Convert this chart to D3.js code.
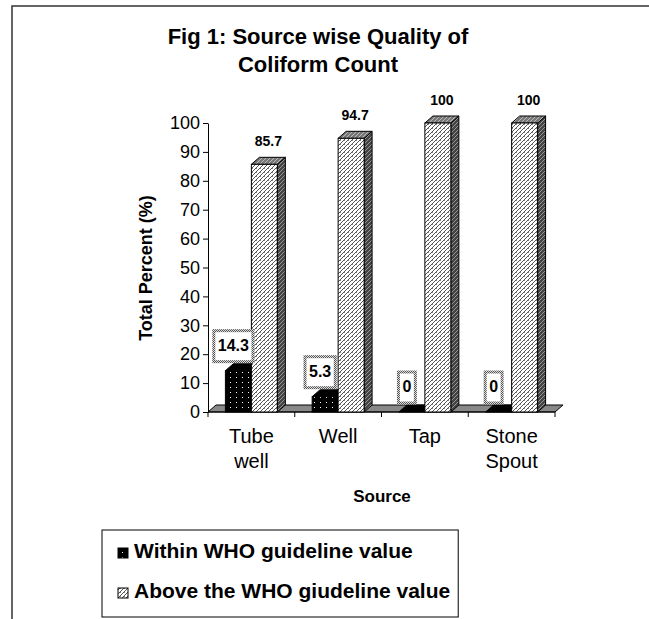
<!doctype html>
<html lang="en">
  <head>
    <meta charset="utf-8">
    <title>Source wise Quality of Coliform Count</title>
    <script src="https://cdnjs.cloudflare.com/ajax/libs/d3/7.8.5/d3.min.js"></script>
    <style>
      body { margin: 0; background: #fff; }
      text { font-family: "Liberation Sans", Arial, sans-serif; fill: #000; }
    </style>
  </head>
  <body>
    <div id="chart"></div>
    <script>
    // chart values
    var categories = [["Tube", "well"], ["Well"], ["Tap"], ["Stone", "Spout"]];
    var withinValues = [14.3, 5.3, 0, 0];
    var aboveValues = [85.7, 94.7, 100, 100];
    var yTicks = [0, 10, 20, 30, 40, 50, 60, 70, 80, 90, 100];
    var seriesNames = ["Within WHO guideline value", "Above the WHO giudeline value"];

    var width = 649, height = 619;
    var dx = 8, dy = -7;   // 3d depth of the columns

    var svg = d3.select("#chart").append("svg")
        .attr("width", width)
        .attr("height", height);

    var defs = svg.append("defs");

    // black with white dots
    var p1 = defs.append("pattern").attr("id", "dots")
        .attr("patternUnits", "userSpaceOnUse").attr("width", 6).attr("height", 5);
    p1.append("rect").attr("width", 6).attr("height", 5).attr("fill", "#000");
    p1.append("rect").attr("x", 2).attr("y", 2).attr("width", 1).attr("height", 1).attr("fill", "#fff");

    // light zigzag hatch for the front face
    var p2 = defs.append("pattern").attr("id", "hatch")
        .attr("patternUnits", "userSpaceOnUse").attr("width", 4).attr("height", 4);
    p2.append("rect").attr("width", 4).attr("height", 4).attr("fill", "#fff");
    p2.append("path").attr("d", "M0,4L4,0M-1,1L1,-1M3,5L5,3").attr("stroke", "#555").attr("stroke-width", 1);
    p2.append("rect").attr("x", 0).attr("y", 0).attr("width", 1).attr("height", 1).attr("fill", "#888");

    // dark hatch for the side face
    var p3 = defs.append("pattern").attr("id", "hatchDark")
        .attr("patternUnits", "userSpaceOnUse").attr("width", 4).attr("height", 4);
    p3.append("rect").attr("width", 4).attr("height", 4).attr("fill", "#444");
    p3.append("path").attr("d", "M0,4L4,0M-1,1L1,-1M3,5L5,3").attr("stroke", "#aaa").attr("stroke-width", 0.8);

    // medium hatch for the top face
    var p4 = defs.append("pattern").attr("id", "hatchMid")
        .attr("patternUnits", "userSpaceOnUse").attr("width", 4).attr("height", 4);
    p4.append("rect").attr("width", 4).attr("height", 4).attr("fill", "#777");
    p4.append("path").attr("d", "M0,4L4,0M-1,1L1,-1M3,5L5,3").attr("stroke", "#ccc").attr("stroke-width", 0.8);

    // checker used for the label box border
    var p5 = defs.append("pattern").attr("id", "checker")
        .attr("patternUnits", "userSpaceOnUse").attr("width", 2).attr("height", 2);
    p5.append("rect").attr("width", 2).attr("height", 2).attr("fill", "#ddd");
    p5.append("rect").attr("width", 1).attr("height", 1).attr("fill", "#555");
    p5.append("rect").attr("x", 1).attr("y", 1).attr("width", 1).attr("height", 1).attr("fill", "#555");

    // outer frame (right and bottom edges are off the picture)
    svg.append("path")
        .attr("d", "M12," + height + "V6H" + width)
        .attr("fill", "none").attr("stroke", "#333").attr("stroke-width", 1.5);

    // title
    var title = svg.append("text")
        .attr("text-anchor", "middle")
        .style("font-size", "22px").style("font-weight", "bold");
    title.append("tspan").attr("x", 318).attr("y", 44).text("Fig 1: Source wise Quality of");
    title.append("tspan").attr("x", 318).attr("y", 72).text("Coliform Count");

    // scales
    var x = d3.scaleBand()
        .domain(d3.range(categories.length))
        .range([208, 555]);

    var xInner = d3.scaleBand()
        .domain([0, 1])
        .range([0, x.bandwidth()])
        .paddingOuter(0.67);

    var y = d3.scaleLinear()
        .domain([0, 100])
        .range([412, 123]);

    var y0 = y(0);

    // floor
    svg.append("path")
        .attr("d", "M" + x.range()[0] + "," + y0 +
                   "L" + (x.range()[0] + dx) + "," + (y0 + dy) +
                   "L" + (x.range()[1] + dx) + "," + (y0 + dy) +
                   "L" + x.range()[1] + "," + y0 + "Z")
        .attr("fill", "#888").attr("stroke", "#000").attr("stroke-width", 1);

    // y axis
    var yAxis = svg.append("g")
        .attr("transform", "translate(208,0)")
        .call(d3.axisLeft(y).tickValues(yTicks).tickSize(5).tickPadding(3).tickSizeOuter(0));
    yAxis.select(".domain").attr("stroke", "#000");
    yAxis.selectAll("text")
        .style("font-size", "18px")
        .attr("font-family", null);

    // x axis: ticks on category boundaries
    var xAxis = svg.append("g");
    xAxis.append("line")
        .attr("x1", x.range()[0]).attr("x2", x.range()[1])
        .attr("y1", y0).attr("y2", y0)
        .attr("stroke", "#000");
    xAxis.selectAll("line.tick")
        .data(d3.range(categories.length + 1))
        .enter().append("line")
        .attr("class", "tick")
        .attr("x1", function(i) { return x.range()[0] + i * x.step(); })
        .attr("x2", function(i) { return x.range()[0] + i * x.step(); })
        .attr("y1", y0).attr("y2", y0 + 5)
        .attr("stroke", "#000");

    xAxis.selectAll("text.cat")
        .data(categories)
        .enter().append("text")
        .attr("class", "cat")
        .attr("text-anchor", "middle")
        .style("font-size", "20px")
        .each(function(lines, i) {
            var t = d3.select(this);
            lines.forEach(function(line, j) {
                t.append("tspan")
                    .attr("x", x(i) + x.bandwidth() / 2)
                    .attr("y", 443 + j * 25)
                    .text(line);
            });
        });

    // axis titles
    svg.append("text")
        .attr("text-anchor", "middle")
        .attr("x", 382).attr("y", 502)
        .style("font-size", "17px").style("font-weight", "bold")
        .text("Source");

    svg.append("text")
        .attr("text-anchor", "middle")
        .attr("transform", "translate(152,268) rotate(-90)")
        .style("font-size", "18px").style("font-weight", "bold")
        .text("Total Percent (%)");

    // 3d columns
    function drawColumn(g, bx, bw, v, front, side, top) {
        var yv = y(v);
        g.append("path")
            .attr("d", "M" + (bx + bw) + "," + yv + "L" + (bx + bw + dx) + "," + (yv + dy) +
                       "L" + (bx + bw + dx) + "," + (y0 + dy) + "L" + (bx + bw) + "," + y0 + "Z")
            .attr("fill", side).attr("stroke", "#000").attr("stroke-width", 1);
        g.append("path")
            .attr("d", "M" + bx + "," + yv + "L" + (bx + dx) + "," + (yv + dy) +
                       "L" + (bx + bw + dx) + "," + (yv + dy) + "L" + (bx + bw) + "," + yv + "Z")
            .attr("fill", top).attr("stroke", "#000").attr("stroke-width", 1);
        if (v > 0) {
            g.append("rect")
                .attr("x", bx).attr("y", yv)
                .attr("width", bw).attr("height", y0 - yv)
                .attr("fill", front).attr("stroke", "#000").attr("stroke-width", 1);
        }
    }

    var bars = svg.append("g");
    var labels = svg.append("g");

    categories.forEach(function(c, i) {
        var g = bars.append("g");
        var bw = xInner.bandwidth();

        // within WHO guideline
        var bx0 = x(i) + xInner(0);
        drawColumn(g, bx0, bw, withinValues[i], "url(#dots)", "#000", "#000");

        // above WHO guideline
        var bx1 = x(i) + xInner(1);
        drawColumn(g, bx1, bw, aboveValues[i], "url(#hatch)", "url(#hatchDark)", "url(#hatchMid)");

        labels.append("text")
            .attr("text-anchor", "middle")
            .attr("x", bx1 + bw / 2 + dx / 2)
            .attr("y", y(aboveValues[i]) + dy - 11)
            .style("font-size", "14px").style("font-weight", "bold")
            .text(aboveValues[i]);

        // boxed label for the small series
        var lg = labels.append("g");
        var lt = lg.append("text")
            .attr("text-anchor", "middle")
            .attr("x", bx0 + bw / 2 - 5)
            .attr("y", y(withinValues[i]) + dy - 13)
            .style("font-size", "16px").style("font-weight", "bold")
            .text(withinValues[i]);
        var tw = lt.node().getComputedTextLength();
        lg.insert("rect", "text")
            .attr("x", bx0 + bw / 2 - 5 - tw / 2 - 4)
            .attr("y", y(withinValues[i]) + dy - 33)
            .attr("width", tw + 8)
            .attr("height", 31)
            .attr("fill", "#fff")
            .attr("stroke", "url(#checker)")
            .attr("stroke-width", 3);
    });

    // legend, sized to its longest entry
    var legend = svg.append("g");
    var legendBox = legend.append("rect")
        .attr("x", 102).attr("y", 530)
        .attr("height", 87)
        .attr("fill", "#fff").attr("stroke", "#000").attr("stroke-width", 1);

    var swatches = ["url(#dots)", "url(#hatch)"];
    var maxRight = 0;
    seriesNames.forEach(function(name, i) {
        var ly = 548 + i * 40;
        legend.append("rect")
            .attr("x", 118).attr("y", ly)
            .attr("width", 10).attr("height", 10)
            .attr("fill", swatches[i]).attr("stroke", "#000").attr("stroke-width", 1);
        var t = legend.append("text")
            .attr("x", 134).attr("y", ly + 10)
            .style("font-size", "21px").style("font-weight", "bold")
            .text(name);
        maxRight = Math.max(maxRight, 134 + t.node().getComputedTextLength());
    });
    legendBox.attr("width", maxRight + 8 - 102);
    </script>
  </body>
</html>
